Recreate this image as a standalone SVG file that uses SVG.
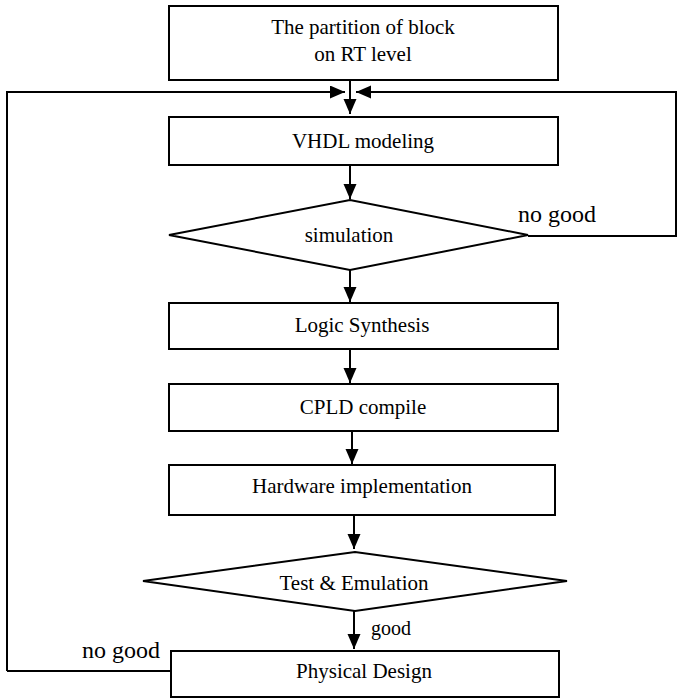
<svg xmlns="http://www.w3.org/2000/svg" width="679" height="699" viewBox="0 0 679 699">
<style>
.box{fill:#fff;stroke:#000;stroke-width:2}
.t{font-size:21px;fill:#000;text-anchor:middle}
.lbl{fill:#000}
.c{fill:none;stroke:#000;stroke-width:2}
</style>
<defs>
<marker id="ah" markerUnits="userSpaceOnUse" markerWidth="16" markerHeight="14" refX="15" refY="6.5" orient="auto">
<path d="M0,0 L15,6.5 L0,13 z" fill="#000"/>
</marker>
</defs>
<g font-family="'Liberation Serif', 'DejaVu Serif', serif">
<g id="connectors">
<path class="c" d="M350,80 V114" marker-end="url(#ah)"/>
<path class="c" d="M7,671 V92 H345" marker-end="url(#ah)"/>
<path class="c" d="M528,236 H676 V92 H356" marker-end="url(#ah)"/>
<path class="c" d="M171,671 H7"/>
<path class="c" d="M350,165 V199" marker-end="url(#ah)"/>
<path class="c" d="M350,270 V302" marker-end="url(#ah)"/>
<path class="c" d="M350,349 V383" marker-end="url(#ah)"/>
<path class="c" d="M352,431 V464" marker-end="url(#ah)"/>
<path class="c" d="M354,515 V549" marker-end="url(#ah)"/>
<path class="c" d="M354,611 V649" marker-end="url(#ah)"/>
<text class="lbl" x="518" y="222" font-size="24">no good</text>
<text class="lbl" x="82" y="658" font-size="24">no good</text>
<text class="lbl" x="371" y="635" font-size="20">good</text>
</g>
<g id="partition">
<rect class="box" x="169" y="6" width="389" height="74"/>
<text class="t" x="363" y="34">The partition of block</text>
<text class="t" x="363" y="61">on RT level</text>
</g>
<g id="vhdl">
<rect class="box" x="169" y="117" width="389" height="48"/>
<text class="t" x="363" y="148">VHDL modeling</text>
</g>
<g id="simulation">
<polygon class="box" points="169,235 350,200 528,235 350,270"/>
<text class="t" x="349" y="242">simulation</text>
</g>
<g id="synthesis">
<rect class="box" x="169" y="303" width="389" height="46"/>
<text class="t" x="362" y="332">Logic Synthesis</text>
</g>
<g id="cpld">
<rect class="box" x="169" y="384" width="389" height="47"/>
<text class="t" x="363" y="414">CPLD compile</text>
</g>
<g id="hardware">
<rect class="box" x="169" y="465" width="386" height="50"/>
<text class="t" x="362" y="493">Hardware implementation</text>
</g>
<g id="test">
<polygon class="box" points="143,581 355,552 567,581 355,611"/>
<text class="t" x="354" y="590">Test &amp; Emulation</text>
</g>
<g id="physical">
<rect class="box" x="171" y="651" width="388" height="46"/>
<text class="t" x="364" y="678">Physical Design</text>
</g>
</g>
</svg>
